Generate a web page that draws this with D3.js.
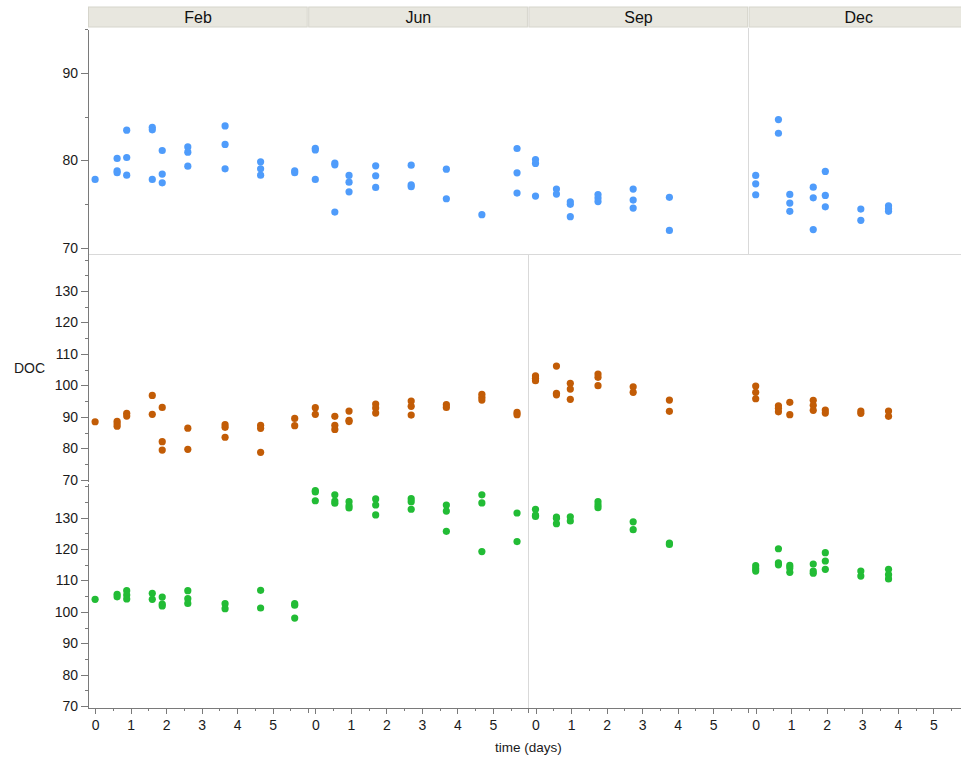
<!DOCTYPE html>
<html>
<head>
<meta charset="utf-8">
<script src="https://cdn.jsdelivr.net/npm/d3@7"></script>
<style>
  html, body { margin: 0; padding: 0; background: #fff; }
  svg { display: block; font-family: "Liberation Sans", Arial, Helvetica, sans-serif; }
  .axis path, .axis line { stroke: #7a7a7a; shape-rendering: crispEdges; }
  .axis text { fill: #1a1a1a; font-size: 14px; }
</style>
</head>
<body>
<script>
// Sampling months (one panel each) and the sampling times within each month, in days
const months = ["Feb", "Jun", "Sep", "Dec"];
const febDays = [0, 0.62, 0.89, 1.61, 1.89, 2.61, 3.66, 4.66, 5.62];
const junDays = [0, 0.55, 0.95, 1.70, 2.70, 3.69, 4.69, 5.68];
const sepDays = [0, 0.59, 0.98, 1.76, 2.75, 3.77];
const decDays = [0, 0.64, 0.96, 1.62, 1.96, 2.96, 3.74];

// DOC replicates at each sampling time — upper group
const blueFeb = [[77.83], [80.23, 78.8, 78.6], [83.46, 80.34, 78.32], [83.8, 83.5, 77.83], [81.14, 78.44, 77.44], [81.55, 80.95, 79.35], [83.95, 81.83, 79.04], [79.84, 79.04, 78.32], [78.8, 78.6]];
const blueJun = [[81.4, 81.2, 77.83], [79.7, 79.5, 74.1], [78.29, 77.52, 76.42], [79.39, 78.25, 76.92], [79.46, 77.2, 77.0], [79.0, 75.62], [73.8], [81.37, 78.59, 76.27]];
const blueSep = [[80.1, 79.66, 75.93], [76.73, 76.16], [75.28, 74.98, 73.57], [76.1, 75.7, 75.3], [76.73, 75.47, 74.56], [75.78, 72.0]];
const blueDec = [[78.29, 77.33, 76.08], [84.68, 83.11], [76.12, 75.13, 74.18], [76.95, 75.73, 72.1], [78.75, 76.0, 74.7], [74.44, 73.15], [74.82, 74.48, 74.18]];

// DOC replicates — middle group
const brownFeb = [[88.44], [88.6, 87.8, 87.0], [91.1, 90.25], [96.8, 90.8], [93.0, 82.1, 79.44], [86.4, 79.66], [87.5, 86.66, 83.5], [87.3, 86.34, 78.7], [89.5, 87.2]];
const brownJun = [[92.9, 90.8], [90.15, 87.3, 86.0], [91.84, 88.9, 88.5], [94.07, 92.8, 91.2], [95.0, 93.33, 90.57], [93.85, 93.0], [97.15, 96.2, 95.34], [91.4, 90.67]];
const brownSep = [[103.0, 102.25, 101.5], [106.15, 97.5, 97.0], [100.65, 98.84, 95.56], [103.6, 102.56, 99.9], [99.57, 97.8], [95.34, 91.74]];
const brownDec = [[99.8, 97.8, 95.75], [93.5, 92.7, 91.6], [94.6, 90.67], [95.25, 93.66, 92.07], [92.16, 91.2], [91.84, 91.1], [91.84, 90.15]];

// DOC replicates — lower group
const greenFeb = [[104.0], [105.6, 104.8], [106.74, 105.37, 104.1], [105.9, 104.0], [104.7, 102.5, 101.9], [106.74, 104.2, 102.7], [102.6, 101.0], [106.87, 101.23], [102.6, 102.1, 98.0]];
const greenJun = [[138.6, 138.2, 135.4], [137.3, 135.3, 134.6], [135.1, 133.8, 133.1], [136.0, 134.05, 130.9], [136.06, 135.1, 132.7], [134.05, 132.1, 125.67], [137.3, 134.7, 119.2], [131.5, 122.4]];
const greenSep = [[132.7, 130.8, 130.4], [130.2, 129.8, 128.1], [130.3, 128.95], [135.1, 134.05, 133.2], [128.7, 126.2], [121.9, 121.5]];
const greenDec = [[114.7, 113.75, 113.0], [120.1, 115.6, 115.0], [114.8, 114.0, 112.6], [115.25, 113.0, 112.3], [118.85, 116.2, 113.56], [113.0, 111.4], [113.56, 111.84, 110.5]];

// Axis tick labels
const xTickLabels = [0, 1, 2, 3, 4, 5];
const upperTicks = [70, 80, 90];
const lowerTicks = [70, 80, 90, 100, 110, 120, 130];

// ---- layout ----
const W = 961, H = 762;
const plotLeft = 88, panelW = 220.2, xAxisY = 708;
const headerTop = 7, headerH = 20;

const daysByMonth = { Feb: febDays, Jun: junDays, Sep: sepDays, Dec: decDays };

const groups = [
  { color: "#4f9cfb", domain: [69.27, 95], range: [254.3, 29.3], ticks: upperTicks,
    values: { Feb: blueFeb, Jun: blueJun, Sep: blueSep, Dec: blueDec } },
  { color: "#c25c06", domain: [69.43, 141.69], range: [481.5, 254.3], ticks: lowerTicks,
    values: { Feb: brownFeb, Jun: brownJun, Sep: brownSep, Dec: brownDec } },
  { color: "#22bc35", domain: [69.36, 140.9], range: [708, 483.5], ticks: lowerTicks,
    values: { Feb: greenFeb, Jun: greenJun, Sep: greenSep, Dec: greenDec } }
];

const svg = d3.select("body").append("svg").attr("width", W).attr("height", H);

// panel x scales
const xScales = months.map((m, i) =>
  d3.scaleLinear().domain([-0.2, 6.0]).range([plotLeft + i * panelW, plotLeft + (i + 1) * panelW]));

// header strip with month names
const header = svg.append("g");
months.forEach((m, i) => {
  const x0 = plotLeft + i * panelW;
  header.append("rect")
    .attr("x", x0 + 0.5).attr("y", headerTop)
    .attr("width", panelW - 1.5).attr("height", headerH)
    .attr("fill", "#e8e7df").attr("stroke", "#d6d5cc").attr("stroke-width", 1);
  header.append("text")
    .attr("x", x0 + panelW / 2).attr("y", headerTop + headerH / 2 + 6)
    .attr("text-anchor", "middle").attr("font-size", 16).attr("fill", "#111")
    .text(m);
});

// separator lines between group bands and month blocks
const grid = svg.append("g").attr("stroke", "#d9d9d9").attr("stroke-width", 1).attr("shape-rendering", "crispEdges");
grid.append("line").attr("x1", plotLeft).attr("x2", W).attr("y1", 254.3).attr("y2", 254.3);
grid.append("line").attr("x1", plotLeft + 3 * panelW).attr("x2", plotLeft + 3 * panelW).attr("y1", 28).attr("y2", 254.3);
grid.append("line").attr("x1", plotLeft + 2 * panelW).attr("x2", plotLeft + 2 * panelW).attr("y1", 254.3).attr("y2", xAxisY);

// y axes, one segment per group
groups.forEach(g => {
  g.y = d3.scaleLinear().domain(g.domain).range(g.range);
  const minor = d3.range(Math.ceil(g.domain[0] / 5) * 5, g.domain[1] + 0.001, 5)
    .filter(v => g.ticks.indexOf(v) < 0);
  svg.append("g").attr("class", "axis").attr("transform", `translate(${plotLeft},0)`)
    .call(d3.axisLeft(g.y).tickValues(minor).tickSize(3).tickSizeOuter(0).tickFormat(""));
  svg.append("g").attr("class", "axis").attr("transform", `translate(${plotLeft},0)`)
    .call(d3.axisLeft(g.y).tickValues(g.ticks).tickSize(7).tickSizeOuter(0).tickPadding(3))
    .call(a => a.select(".domain").remove());
});

// x axes, one per month panel
months.forEach((m, i) => {
  const x = xScales[i];
  svg.append("g").attr("class", "axis").attr("transform", `translate(0,${xAxisY})`)
    .call(d3.axisBottom(x).tickValues(d3.range(0.5, 6, 1)).tickSize(3).tickSizeOuter(0).tickFormat(""));
  svg.append("g").attr("class", "axis").attr("transform", `translate(0,${xAxisY})`)
    .call(d3.axisBottom(x).tickValues(xTickLabels).tickSize(6).tickSizeOuter(0).tickPadding(6).tickFormat(d3.format("d")))
    .call(a => a.select(".domain").remove());
  // boundary tick at the panel edge
  svg.append("line").attr("x1", x.range()[1]).attr("x2", x.range()[1])
    .attr("y1", xAxisY).attr("y2", xAxisY + 5)
    .attr("stroke", "#7a7a7a").attr("shape-rendering", "crispEdges");
});

// axis titles
svg.append("text").attr("x", 14).attr("y", 373).attr("font-size", 14).attr("fill", "#1a1a1a").text("DOC");
svg.append("text").attr("x", plotLeft + 2 * panelW).attr("y", 752).attr("text-anchor", "middle")
  .attr("font-size", 13.5).attr("fill", "#1a1a1a").text("time (days)");

// points
groups.forEach(g => {
  const pts = [];
  months.forEach((m, i) => {
    daysByMonth[m].forEach((d, k) => {
      g.values[m][k].forEach(v => pts.push({ x: xScales[i](d), y: g.y(v) }));
    });
  });
  svg.append("g").selectAll("circle").data(pts).join("circle")
    .attr("cx", p => p.x).attr("cy", p => p.y).attr("r", 3.6)
    .attr("fill", g.color);
});
</script>
</body>
</html>
